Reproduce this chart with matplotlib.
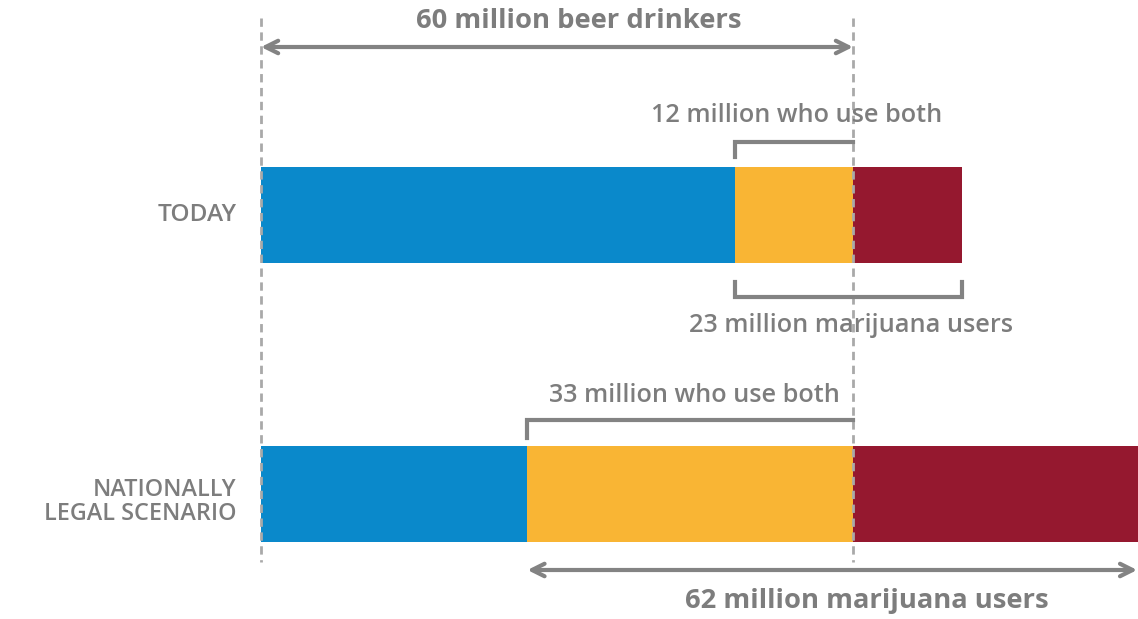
import matplotlib
matplotlib.use("Agg")
import matplotlib.pyplot as plt

# ---- data (millions of people) ----
scenarios = ["TODAY", "NATIONALLY\nLEGAL SCENARIO"]
beer_only = [48, 27]
both = [12, 33]
marijuana_only = [11, 29]
beer_total = 60
marijuana_total = [23, 62]
both_labels = ["12 million who use both", "33 million who use both"]
mj_labels = ["23 million marijuana users", "62 million marijuana users"]
beer_label = "60 million beer drinkers"

BLUE = "#0A89CB"
YELLOW = "#F9B534"
RED = "#95182F"
GREY = "#838383"
TXT = "#7d7d7d"
DASH = "#a9a9a9"

W, H = 1138, 619
fig = plt.figure(figsize=(W / 100, H / 100), dpi=100)
ax = fig.add_axes([0, 0, 1, 1])
scale = (853 - 261) / 60.0  # px per million
x_left = -261 / scale
x_right = (W - 261) / scale
ax.set_xlim(x_left, x_right)
ax.set_ylim(H, 0)
ax.axis("off")

bar_y = [215, 494]
bar_h = 96

for i in range(2):
    ax.barh(bar_y[i], beer_only[i], height=bar_h, left=0, color=BLUE, zorder=2)
    ax.barh(bar_y[i], both[i], height=bar_h, left=beer_only[i], color=YELLOW, zorder=2)
    ax.barh(bar_y[i], marijuana_only[i], height=bar_h,
            left=beer_only[i] + both[i], color=RED, zorder=2)

# dashed reference lines
for xv in (0, beer_total):
    ax.plot([xv, xv], [18, 562], color=DASH, lw=2, ls=(0, (3, 2)), zorder=3)

fname = "Open Sans"
lw = 3
FS_B = 19.7
FS_R = 18.2
FS_L = 16.8

# top arrow: beer drinkers
ax.annotate("", xy=(0, 47), xytext=(beer_total, 47),
            arrowprops=dict(arrowstyle="<->,head_length=0.9,head_width=0.45",
                            color=GREY, lw=lw, shrinkA=0, shrinkB=0))
ax.text(beer_total / 2 + 2.2, 21, beer_label, ha="center", va="center",
        fontsize=FS_B, fontweight="bold", color=TXT, family=fname)

# Today: both bracket (above)
x0 = beer_only[0]
ax.plot([x0, x0, beer_total], [157, 142, 142], color=GREY, lw=lw,
        solid_joinstyle="miter", zorder=4)
ax.text((x0 + beer_total) / 2 + 0.3, 116, both_labels[0], ha="center",
        va="center", fontsize=FS_R, fontweight="semibold", color=TXT, family=fname)

# Today: marijuana bracket (below)
x1 = beer_only[0] + marijuana_total[0]
ax.plot([x0, x0, x1, x1], [282, 297, 297, 282], color=GREY, lw=lw,
        solid_joinstyle="miter", zorder=4)
ax.text((x0 + x1) / 2 + 0.3, 325, mj_labels[0], ha="center",
        va="center", fontsize=FS_R, fontweight="semibold", color=TXT, family=fname)

# Legal: both bracket (above)
x0 = beer_only[1]
ax.plot([x0, x0, beer_total], [438, 420, 420], color=GREY, lw=lw,
        solid_joinstyle="miter", zorder=4)
ax.text((x0 + beer_total) / 2 + 0.4, 395, both_labels[1], ha="center",
        va="center", fontsize=FS_R, fontweight="semibold", color=TXT, family=fname)

# Legal: marijuana arrow (below)
x1 = beer_only[1] + marijuana_total[1]
ax.annotate("", xy=(x0, 570), xytext=(x1 - 0.2, 570),
            arrowprops=dict(arrowstyle="<->,head_length=0.9,head_width=0.45",
                            color=GREY, lw=lw, shrinkA=0, shrinkB=0))
ax.text((x0 + x1) / 2 + 3.4, 601, mj_labels[1], ha="center", va="center",
        fontsize=FS_B, fontweight="bold", color=TXT, family=fname)

# row labels
ax.text(-26.5 + 237 / scale, 215, scenarios[0], ha="right", va="center",
        fontsize=FS_L + 0.8, fontweight="semibold", color=TXT, family=fname,
        linespacing=1.0)
ax.text(-26.5 + 237 / scale, 502, scenarios[1], ha="right", va="center",
        fontsize=FS_L, fontweight="semibold", color=TXT, family=fname,
        linespacing=1.05, multialignment="right")

fig.savefig("out.png", dpi=100, facecolor="white")
